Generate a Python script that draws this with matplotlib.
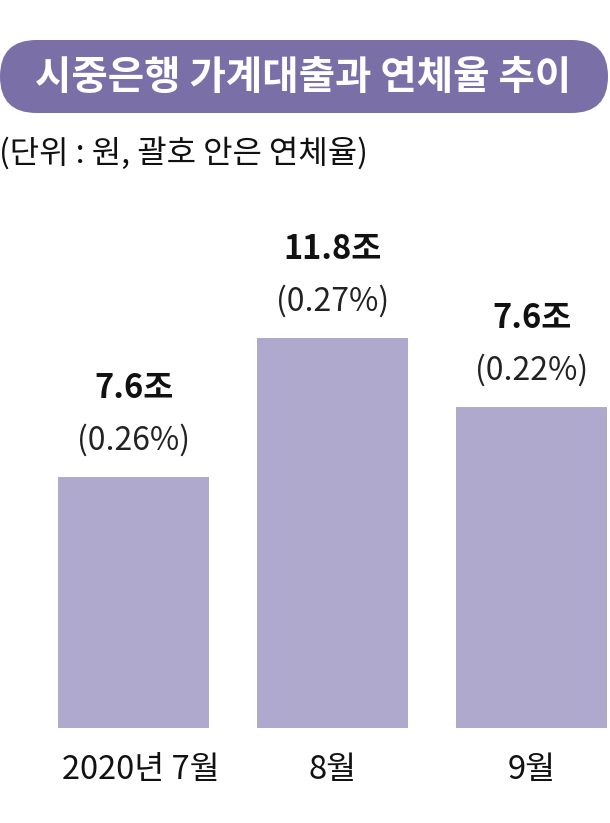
import matplotlib
matplotlib.use("Agg")
import matplotlib.pyplot as plt
from matplotlib.patches import FancyBboxPatch

plt.rcParams['font.family'] = ['Noto Sans CJK KR', 'DejaVu Sans']

# data
categories = ["2020년 7월", "8월", "9월"]
amount_labels = ["7.6조", "11.8조", "7.6조"]
rate_labels = ["(0.26%)", "(0.27%)", "(0.22%)"]
bar_heights = [251, 390, 321]   # visual bar heights as drawn in the source graphic
title = "시중은행 가계대출과 연체율 추이"
subtitle = "(단위 : 원, 괄호 안은 연체율)"

W, H = 610, 823
fig = plt.figure(figsize=(W / 100, H / 100), dpi=100)
fig.patch.set_facecolor("white")

# bar axes: 1 data unit = 1 px vertically
ax = fig.add_axes([0, 0, 1, 1])
ax.set_xlim(-133.5 / 199, (W - 133.5) / 199)
ax.set_ylim(-95, H - 95)
ax.axis("off")
x = list(range(len(categories)))
ax.bar(x, bar_heights, width=151 / 199, color="#aea9cd", linewidth=0)
for i, h in enumerate(bar_heights):
    ax.text(i, h + 89, amount_labels[i], ha="center", va="center",
            fontsize=23.5, fontweight="bold", color="#111111")
    ax.text(i, h + 37, rate_labels[i], ha="center", va="center",
            fontsize=23, color="#222222")
for i, c in enumerate(categories):
    ax.text(i + (0.038 if i == 0 else 0.0), -42, c, ha="center", va="center",
            fontsize=23.5, color="#111111")

# overlay axes in pixel coordinates for header
ov = fig.add_axes([0, 0, 1, 1], facecolor="none")
ov.set_xlim(0, W)
ov.set_ylim(H, 0)
ov.axis("off")
pill = FancyBboxPatch((0 + 36.5, 40 + 36.5), 608 - 73, 0,
                      boxstyle="round,pad=36.5,rounding_size=36.5",
                      facecolor="#7a6fa7", edgecolor="none")
ov.add_patch(pill)
ov.text(303, 77, title, ha="center", va="center", fontsize=28.5,
        fontweight="bold", color="white")
ov.text(-1, 153, subtitle, ha="left", va="center", fontsize=23, color="#111111")

fig.savefig("out.png", dpi=100)
